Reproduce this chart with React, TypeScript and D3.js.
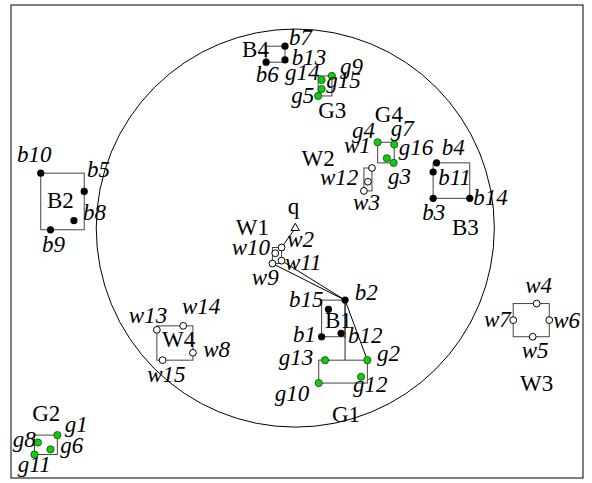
import React from "react";
import * as d3 from "d3";

// Map extent in map units (x: 0..100, y: 0..82.7, equal aspect)
const X_DOMAIN: [number, number] = [0, 100];
const Y_DOMAIN: [number, number] = [0, 82.7];

// Query point and search radius
const queryPoint = { name: "q", x: 49.7, y: 43.7 };
const searchRadius = 34.8;

// Black objects (b*)
const blackPoints: [string, number, number][] = [
  ["b1", 54.3, 24.7],
  ["b2", 58.4, 31.1],
  ["b3", 73.8, 48.9],
  ["b4", 74.4, 55.1],
  ["b5", 12.8, 50.1],
  ["b6", 44.6, 72.7],
  ["b7", 47.9, 75.5],
  ["b8", 11.0, 45.0],
  ["b9", 6.9, 43.4],
  ["b10", 5.2, 53.3],
  ["b11", 73.8, 53.5],
  ["b12", 57.7, 25.3],
  ["b13", 47.9, 73.1],
  ["b14", 80.2, 48.9],
  ["b15", 55.5, 29.5],
];

// Green objects (g*)
const greenPoints: [string, number, number][] = [
  ["g1", 8.1, 7.5],
  ["g2", 62.3, 20.6],
  ["g3", 66.9, 55.1],
  ["g4", 64.1, 58.7],
  ["g5", 53.7, 66.8],
  ["g6", 6.9, 5.0],
  ["g7", 67.0, 58.3],
  ["g8", 4.7, 6.2],
  ["g9", 56.1, 70.3],
  ["g10", 53.8, 16.6],
  ["g11", 4.1, 4.1],
  ["g12", 61.2, 17.7],
  ["g13", 54.9, 20.6],
  ["g14", 54.3, 69.6],
  ["g15", 54.3, 68.0],
  ["g16", 65.7, 55.9],
];

// White objects (w*)
const whitePoints: [string, number, number][] = [
  ["w1", 63.1, 54.2],
  ["w2", 47.3, 40.3],
  ["w3", 61.7, 50.2],
  ["w4", 91.9, 30.5],
  ["w5", 91.2, 24.7],
  ["w6", 94.1, 27.6],
  ["w7", 87.8, 27.6],
  ["w8", 31.8, 21.9],
  ["w9", 45.7, 37.5],
  ["w10", 46.2, 39.3],
  ["w11", 47.3, 38.0],
  ["w12", 62.4, 51.8],
  ["w13", 25.5, 25.9],
  ["w14", 30.1, 26.6],
  ["w15", 26.5, 20.6],
];

// Groups: name and member objects (bounded by their MBR)
const groupNames = ["B1", "B2", "B3", "B4", "G1", "G2", "G3", "G4", "W1", "W2", "W3", "W4"];
const groupMembers: string[][] = [
  ["b1", "b2", "b12", "b15"],
  ["b5", "b8", "b9", "b10"],
  ["b3", "b4", "b11", "b14"],
  ["b6", "b7", "b13"],
  ["g2", "g10", "g12", "g13"],
  ["g1", "g6", "g8", "g11"],
  ["g5", "g9", "g14", "g15"],
  ["g3", "g4", "g7", "g16"],
  ["w2", "w9", "w10", "w11"],
  ["w1", "w3", "w12"],
  ["w4", "w5", "w6", "w7"],
  ["w8", "w13", "w14", "w15"],
];

// Group label anchors (left, baseline) in map units
const groupLabelAt: [string, number, number][] = [
  ["B1", 54.9, 26.2],
  ["B2", 6.3, 47.2],
  ["B3", 77.1, 42.5],
  ["B4", 40.4, 73.6],
  ["G1", 56.1, 9.8],
  ["G2", 3.7, 10.0],
  ["G3", 53.7, 62.9],
  ["G4", 63.6, 62.2],
  ["W1", 39.3, 42.5],
  ["W2", 50.8, 54.5],
  ["W3", 89.0, 15.2],
  ["W4", 26.4, 22.9],
  ["q", 48.4, 46.2],
];

// Object label anchors (left, baseline) in map units
const pointLabelAt: [string, number, number][] = [
  ["b7", 48.6, 75.7],
  ["b13", 49.1, 72.2],
  ["b6", 42.8, 69.2],
  ["g14", 47.9, 69.6],
  ["g9", 57.5, 70.6],
  ["g15", 55.1, 68.2],
  ["g5", 49.0, 65.5],
  ["g4", 59.6, 59.4],
  ["g7", 66.4, 59.8],
  ["g16", 67.8, 56.5],
  ["g3", 65.9, 51.4],
  ["w1", 58.2, 56.8],
  ["w12", 54.0, 51.2],
  ["w3", 59.8, 46.9],
  ["b4", 75.3, 56.5],
  ["b11", 74.7, 51.2],
  ["b14", 80.8, 47.7],
  ["b3", 71.9, 45.1],
  ["b10", 1.05, 55.2],
  ["b5", 13.3, 52.6],
  ["b8", 12.6, 45.1],
  ["b9", 5.4, 39.5],
  ["w10", 38.6, 39.0],
  ["w2", 48.3, 40.4],
  ["w11", 47.9, 36.4],
  ["w9", 42.1, 33.7],
  ["b15", 48.6, 29.9],
  ["b2", 60.1, 31.1],
  ["b1", 49.3, 23.8],
  ["b12", 58.9, 23.6],
  ["g13", 46.8, 19.8],
  ["g2", 64.0, 20.5],
  ["g12", 59.8, 15.0],
  ["g10", 46.1, 13.5],
  ["w13", 20.6, 27.1],
  ["w14", 29.9, 28.7],
  ["w8", 33.6, 21.2],
  ["w15", 23.8, 16.8],
  ["w4", 89.9, 32.3],
  ["w7", 82.7, 26.4],
  ["w6", 94.8, 26.2],
  ["w5", 89.3, 21.0],
  ["g1", 9.4, 8.0],
  ["g8", 0.3, 5.4],
  ["g6", 8.6, 4.4],
  ["g11", 1.2, 1.0],
];

// Connecting segments between objects
const links: [string, string][] = [
  ["q", "w2"],
  ["w11", "b2"],
  ["w9", "b2"],
  ["b2", "g2"],
];

const WIDTH = 592;
const HEIGHT = 483;

export default function App() {
  const x = d3.scaleLinear().domain(X_DOMAIN).range([11, 583]);
  const y = d3.scaleLinear().domain(Y_DOMAIN).range([478, 5]);

  const pos = new Map<string, [number, number]>();
  for (const [n, px, py] of [...blackPoints, ...greenPoints, ...whitePoints]) pos.set(n, [px, py]);
  pos.set(queryPoint.name, [queryPoint.x, queryPoint.y]);

  const rects = groupMembers.map((m) => {
    const xs = m.map((n) => pos.get(n)![0]);
    const ys = m.map((n) => pos.get(n)![1]);
    const [x0, x1] = d3.extent(xs) as [number, number];
    const [y0, y1] = d3.extent(ys) as [number, number];
    return { x0, x1, y0, y1 };
  });

  const b2 = pos.get("b2")!;
  const g1Top = rects[groupNames.indexOf("G1")].y1;

  const rPx = x(searchRadius) - x(0);
  const tri = d3.symbol().type(d3.symbolTriangle).size(30)();

  const serif = "'Liberation Serif', 'Times New Roman', serif";
  const fs = 23;

  return (
    <svg
      width={WIDTH}
      height={HEIGHT}
      style={{ position: "absolute", left: 0, top: 0, background: "#fff" }}
    >
      <rect
        x={x(X_DOMAIN[0])}
        y={y(Y_DOMAIN[1])}
        width={x(X_DOMAIN[1]) - x(X_DOMAIN[0])}
        height={y(Y_DOMAIN[0]) - y(Y_DOMAIN[1])}
        fill="#fff"
        stroke="#000"
        strokeWidth={1}
      />
      <circle cx={x(queryPoint.x)} cy={y(queryPoint.y)} r={rPx} fill="none" stroke="#000" strokeWidth={1} />

      {rects.map((r, i) => (
        <rect
          key={groupNames[i]}
          x={x(r.x0)}
          y={y(r.y1)}
          width={x(r.x1) - x(r.x0)}
          height={y(r.y0) - y(r.y1)}
          fill="none"
          stroke="#444"
          strokeWidth={1}
        />
      ))}

      {links.map(([a, b]) => {
        const pa = pos.get(a)!;
        const pb = pos.get(b)!;
        return (
          <line key={a + b} x1={x(pa[0])} y1={y(pa[1])} x2={x(pb[0])} y2={y(pb[1])} stroke="#000" strokeWidth={1} />
        );
      })}
      <line x1={x(b2[0])} y1={y(b2[1])} x2={x(b2[0])} y2={y(g1Top)} stroke="#222" strokeWidth={1} />

      {whitePoints.map(([n, px, py]) => (
        <circle key={n} cx={x(px)} cy={y(py)} r={3.4} fill="#fff" stroke="#000" strokeWidth={1} />
      ))}
      {blackPoints.map(([n, px, py]) => (
        <circle key={n} cx={x(px)} cy={y(py)} r={3.6} fill="#000" />
      ))}
      {greenPoints.map(([n, px, py]) => (
        <circle key={n} cx={x(px)} cy={y(py)} r={3.6} fill="#11cc11" stroke="#0a4a0a" strokeWidth={0.8} />
      ))}
      <path
        d={tri!}
        transform={`translate(${x(queryPoint.x)},${y(queryPoint.y)})`}
        fill="#fff"
        stroke="#000"
        strokeWidth={1}
      />

      {groupLabelAt.map(([t, lx, ly]) => (
        <text key={"G" + t} x={x(lx)} y={y(ly)} fontFamily={serif} fontSize={fs} fill="#000">
          {t}
        </text>
      ))}
      {pointLabelAt.map(([t, lx, ly]) => (
        <text key={"P" + t} x={x(lx)} y={y(ly)} fontFamily={serif} fontStyle="italic" fontSize={fs} fill="#000">
          {t}
        </text>
      ))}
    </svg>
  );
}
